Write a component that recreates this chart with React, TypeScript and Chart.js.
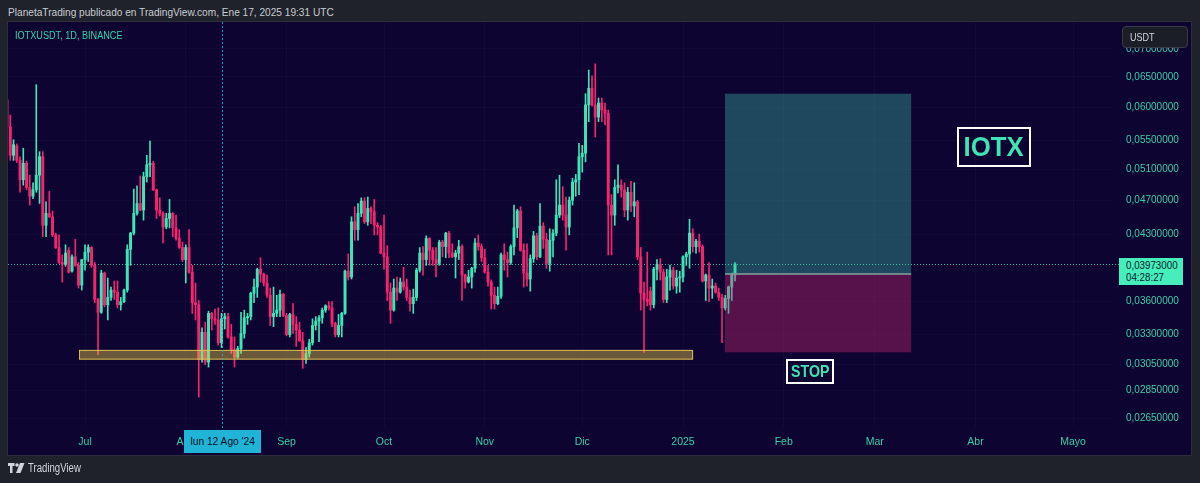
import React, { useEffect, useRef } from 'react';
import { Chart, registerables } from 'chart.js';

Chart.register(...registerables);

const FONT = "'Liberation Sans', Arial, sans-serif";

// Daily candles IOTX/USDT (Binance). Day 0 = 1 Jul 2024; first candle = 7 Jun 2024.
const FIRST_DAY = -24;

const OPEN = [
  0.0612, 0.0570, 0.0529, 0.0542, 0.0522, 0.0496, 0.0518, 0.0486, 0.0475, 0.0483,
  0.0502, 0.0527, 0.0440, 0.0454, 0.0450, 0.0429, 0.0415, 0.0399, 0.0397, 0.0412,
  0.0390, 0.0405, 0.0396, 0.0376, 0.0402, 0.0410, 0.0415, 0.0396, 0.0362, 0.0350,
  0.0388, 0.0357, 0.0364, 0.0371, 0.0369, 0.0357, 0.0360, 0.0371, 0.0413, 0.0431,
  0.0454, 0.0466, 0.0458, 0.0500, 0.0516, 0.0518, 0.0483, 0.0458, 0.0454, 0.0438,
  0.0448, 0.0454, 0.0437, 0.0425, 0.0415, 0.0402, 0.0415, 0.0389, 0.0359, 0.0357,
  0.0309, 0.0332, 0.0307, 0.0349, 0.0344, 0.0343, 0.0323, 0.0344, 0.0346, 0.0328,
  0.0317, 0.0311, 0.0318, 0.0331, 0.0345, 0.0346, 0.0368, 0.0374, 0.0392, 0.0387,
  0.0378, 0.0366, 0.0346, 0.0349, 0.0352, 0.0367, 0.0347, 0.0330, 0.0348, 0.0339,
  0.0334, 0.0325, 0.0309, 0.0314, 0.0323, 0.0338, 0.0342, 0.0345, 0.0352, 0.0356,
  0.0354, 0.0340, 0.0330, 0.0338, 0.0349, 0.0390, 0.0384, 0.0444, 0.0435, 0.0454,
  0.0469, 0.0444, 0.0460, 0.0456, 0.0440, 0.0438, 0.0409, 0.0405, 0.0369, 0.0352,
  0.0373, 0.0369, 0.0379, 0.0374, 0.0364, 0.0358, 0.0364, 0.0391, 0.0409, 0.0402,
  0.0425, 0.0412, 0.0402, 0.0398, 0.0421, 0.0416, 0.0431, 0.0409, 0.0405, 0.0409,
  0.0416, 0.0386, 0.0379, 0.0384, 0.0393, 0.0420, 0.0416, 0.0404, 0.0389, 0.0379,
  0.0366, 0.0358, 0.0365, 0.0407, 0.0402, 0.0399, 0.0416, 0.0437, 0.0457, 0.0412,
  0.0388, 0.0382, 0.0403, 0.0428, 0.0405, 0.0439, 0.0424, 0.0398, 0.0423, 0.0431,
  0.0452, 0.0464, 0.0452, 0.0438, 0.0470, 0.0493, 0.0496, 0.0527, 0.0532, 0.0604,
  0.0631, 0.0604, 0.0585, 0.0607, 0.0596, 0.0591, 0.0464, 0.0452, 0.0486, 0.0489,
  0.0483, 0.0458, 0.0480, 0.0463, 0.0468, 0.0405, 0.0368, 0.0362, 0.0370, 0.0357,
  0.0392, 0.0397, 0.0389, 0.0362, 0.0384, 0.0391, 0.0375, 0.0383, 0.0384, 0.0405,
  0.0408, 0.0431, 0.0416, 0.0422, 0.0416, 0.0380, 0.0386, 0.0373, 0.0375, 0.0369,
  0.0364, 0.0354, 0.0363, 0.0374, 0.0386,
];

const HIGH = [
  0.0620, 0.0588, 0.0551, 0.0545, 0.0527, 0.0539, 0.0521, 0.0502, 0.0492, 0.0637,
  0.0534, 0.0534, 0.0468, 0.0481, 0.0457, 0.0431, 0.0429, 0.0407, 0.0418, 0.0415,
  0.0407, 0.0424, 0.0399, 0.0402, 0.0418, 0.0418, 0.0416, 0.0399, 0.0363, 0.0391,
  0.0389, 0.0383, 0.0374, 0.0380, 0.0380, 0.0364, 0.0372, 0.0418, 0.0432, 0.0484,
  0.0488, 0.0501, 0.0506, 0.0529, 0.0549, 0.0521, 0.0484, 0.0473, 0.0456, 0.0454,
  0.0471, 0.0455, 0.0452, 0.0435, 0.0421, 0.0418, 0.0435, 0.0396, 0.0378, 0.0361,
  0.0336, 0.0341, 0.0351, 0.0350, 0.0353, 0.0354, 0.0349, 0.0349, 0.0349, 0.0339,
  0.0328, 0.0320, 0.0350, 0.0352, 0.0349, 0.0369, 0.0382, 0.0393, 0.0404, 0.0388,
  0.0386, 0.0373, 0.0374, 0.0366, 0.0371, 0.0368, 0.0349, 0.0349, 0.0358, 0.0346,
  0.0341, 0.0332, 0.0319, 0.0326, 0.0344, 0.0346, 0.0347, 0.0354, 0.0357, 0.0360,
  0.0360, 0.0341, 0.0348, 0.0350, 0.0391, 0.0408, 0.0450, 0.0462, 0.0466, 0.0473,
  0.0473, 0.0474, 0.0462, 0.0471, 0.0443, 0.0440, 0.0452, 0.0417, 0.0378, 0.0382,
  0.0384, 0.0383, 0.0394, 0.0382, 0.0371, 0.0372, 0.0393, 0.0415, 0.0416, 0.0428,
  0.0426, 0.0415, 0.0415, 0.0423, 0.0423, 0.0432, 0.0433, 0.0419, 0.0412, 0.0423,
  0.0418, 0.0387, 0.0391, 0.0394, 0.0425, 0.0429, 0.0419, 0.0413, 0.0396, 0.0381,
  0.0374, 0.0374, 0.0409, 0.0419, 0.0410, 0.0418, 0.0464, 0.0459, 0.0462, 0.0419,
  0.0419, 0.0407, 0.0433, 0.0431, 0.0466, 0.0443, 0.0431, 0.0436, 0.0435, 0.0496,
  0.0502, 0.0487, 0.0474, 0.0474, 0.0498, 0.0503, 0.0546, 0.0543, 0.0622, 0.0662,
  0.0652, 0.0673, 0.0615, 0.0615, 0.0607, 0.0596, 0.0477, 0.0496, 0.0516, 0.0496,
  0.0492, 0.0486, 0.0494, 0.0492, 0.0470, 0.0415, 0.0379, 0.0410, 0.0374, 0.0394,
  0.0402, 0.0403, 0.0392, 0.0392, 0.0396, 0.0394, 0.0391, 0.0390, 0.0406, 0.0410,
  0.0447, 0.0436, 0.0424, 0.0430, 0.0418, 0.0387, 0.0399, 0.0382, 0.0378, 0.0373,
  0.0367, 0.0366, 0.0375, 0.0388, 0.0399,
];

const LOW = [
  0.0565, 0.0522, 0.0522, 0.0519, 0.0480, 0.0489, 0.0483, 0.0464, 0.0472, 0.0480,
  0.0466, 0.0427, 0.0427, 0.0449, 0.0427, 0.0414, 0.0398, 0.0379, 0.0395, 0.0388,
  0.0389, 0.0395, 0.0373, 0.0371, 0.0391, 0.0400, 0.0394, 0.0359, 0.0313, 0.0349,
  0.0355, 0.0343, 0.0361, 0.0362, 0.0354, 0.0352, 0.0359, 0.0369, 0.0396, 0.0429,
  0.0452, 0.0457, 0.0446, 0.0493, 0.0500, 0.0482, 0.0448, 0.0451, 0.0420, 0.0436,
  0.0437, 0.0427, 0.0423, 0.0414, 0.0400, 0.0378, 0.0388, 0.0349, 0.0343, 0.0280,
  0.0307, 0.0305, 0.0303, 0.0334, 0.0339, 0.0321, 0.0319, 0.0335, 0.0327, 0.0314,
  0.0303, 0.0310, 0.0314, 0.0327, 0.0339, 0.0343, 0.0359, 0.0364, 0.0379, 0.0375,
  0.0364, 0.0338, 0.0337, 0.0346, 0.0346, 0.0346, 0.0329, 0.0328, 0.0331, 0.0320,
  0.0324, 0.0302, 0.0306, 0.0311, 0.0321, 0.0334, 0.0324, 0.0340, 0.0350, 0.0352,
  0.0337, 0.0328, 0.0328, 0.0328, 0.0348, 0.0381, 0.0382, 0.0423, 0.0423, 0.0450,
  0.0442, 0.0440, 0.0442, 0.0429, 0.0429, 0.0408, 0.0392, 0.0361, 0.0340, 0.0351,
  0.0361, 0.0368, 0.0371, 0.0361, 0.0351, 0.0349, 0.0361, 0.0389, 0.0386, 0.0396,
  0.0396, 0.0396, 0.0384, 0.0396, 0.0405, 0.0404, 0.0404, 0.0404, 0.0383, 0.0402,
  0.0361, 0.0373, 0.0378, 0.0373, 0.0389, 0.0412, 0.0400, 0.0388, 0.0375, 0.0353,
  0.0353, 0.0357, 0.0363, 0.0391, 0.0384, 0.0397, 0.0407, 0.0426, 0.0411, 0.0374,
  0.0375, 0.0370, 0.0399, 0.0402, 0.0404, 0.0414, 0.0393, 0.0390, 0.0405, 0.0428,
  0.0449, 0.0446, 0.0412, 0.0429, 0.0464, 0.0475, 0.0477, 0.0506, 0.0520, 0.0578,
  0.0602, 0.0555, 0.0578, 0.0578, 0.0573, 0.0407, 0.0407, 0.0440, 0.0479, 0.0474,
  0.0450, 0.0446, 0.0456, 0.0450, 0.0402, 0.0352, 0.0315, 0.0356, 0.0352, 0.0354,
  0.0381, 0.0381, 0.0359, 0.0359, 0.0371, 0.0372, 0.0368, 0.0369, 0.0379, 0.0396,
  0.0393, 0.0410, 0.0409, 0.0410, 0.0379, 0.0361, 0.0360, 0.0363, 0.0368, 0.0361,
  0.0323, 0.0352, 0.0349, 0.0361, 0.0380,
];

const CLOSE = [
  0.0570, 0.0529, 0.0544, 0.0522, 0.0496, 0.0518, 0.0486, 0.0475, 0.0483, 0.0502,
  0.0527, 0.0440, 0.0454, 0.0450, 0.0429, 0.0415, 0.0399, 0.0397, 0.0409, 0.0389,
  0.0405, 0.0396, 0.0376, 0.0402, 0.0410, 0.0415, 0.0396, 0.0362, 0.0350, 0.0388,
  0.0357, 0.0364, 0.0371, 0.0369, 0.0357, 0.0360, 0.0371, 0.0413, 0.0431, 0.0454,
  0.0466, 0.0458, 0.0500, 0.0516, 0.0518, 0.0483, 0.0458, 0.0454, 0.0438, 0.0448,
  0.0454, 0.0437, 0.0425, 0.0415, 0.0402, 0.0415, 0.0389, 0.0359, 0.0357, 0.0309,
  0.0332, 0.0307, 0.0349, 0.0344, 0.0343, 0.0323, 0.0344, 0.0346, 0.0328, 0.0317,
  0.0311, 0.0318, 0.0331, 0.0345, 0.0346, 0.0368, 0.0374, 0.0392, 0.0387, 0.0378,
  0.0366, 0.0346, 0.0349, 0.0352, 0.0367, 0.0347, 0.0330, 0.0348, 0.0339, 0.0334,
  0.0325, 0.0309, 0.0314, 0.0323, 0.0338, 0.0342, 0.0345, 0.0352, 0.0356, 0.0354,
  0.0340, 0.0330, 0.0338, 0.0349, 0.0390, 0.0384, 0.0444, 0.0435, 0.0454, 0.0469,
  0.0444, 0.0460, 0.0456, 0.0440, 0.0438, 0.0409, 0.0405, 0.0369, 0.0352, 0.0373,
  0.0369, 0.0379, 0.0374, 0.0364, 0.0358, 0.0364, 0.0391, 0.0409, 0.0402, 0.0425,
  0.0412, 0.0402, 0.0398, 0.0421, 0.0416, 0.0431, 0.0409, 0.0405, 0.0409, 0.0416,
  0.0386, 0.0379, 0.0384, 0.0393, 0.0420, 0.0416, 0.0404, 0.0389, 0.0379, 0.0366,
  0.0358, 0.0365, 0.0407, 0.0402, 0.0399, 0.0416, 0.0437, 0.0457, 0.0412, 0.0388,
  0.0382, 0.0403, 0.0428, 0.0405, 0.0439, 0.0424, 0.0398, 0.0423, 0.0431, 0.0452,
  0.0464, 0.0452, 0.0438, 0.0470, 0.0493, 0.0496, 0.0527, 0.0532, 0.0604, 0.0631,
  0.0604, 0.0585, 0.0607, 0.0596, 0.0591, 0.0464, 0.0452, 0.0486, 0.0489, 0.0483,
  0.0458, 0.0480, 0.0463, 0.0468, 0.0405, 0.0368, 0.0362, 0.0360, 0.0357, 0.0392,
  0.0397, 0.0389, 0.0362, 0.0384, 0.0391, 0.0375, 0.0383, 0.0384, 0.0405, 0.0408,
  0.0431, 0.0416, 0.0422, 0.0416, 0.0380, 0.0386, 0.0373, 0.0375, 0.0369, 0.0364,
  0.0354, 0.0363, 0.0374, 0.0386, 0.03973,
];

// time axis (days from 1 Jul 2024) and Spanish month labels
const MONTH_DAYS = [0, 31, 62, 92, 123, 153, 184, 215, 243, 274, 304];
const MONTH_LABELS = ['Jul', 'Ago', 'Sep', 'Oct', 'Nov', 'Dic', '2025', 'Feb', 'Mar', 'Abr', 'Mayo'];
// price axis ticks
const PRICE_TICKS = [0.0265, 0.0285, 0.0305, 0.033, 0.036, 0.043, 0.047, 0.051, 0.055, 0.06, 0.065, 0.07];
const LAST_PRICE = 0.03973;
const X_RANGE = [-23.7, 316];
const Y_RANGE = [0.02588, 0.07512];
// drawings
const SUPPORT_ZONE = [-1.85, 187.1, 0.0317, 0.0309]; // fromDay, toDay, top, bottom
const POSITION = [196.9, 254.2, 0.0622, 0.0387, 0.0315]; // fromDay, toDay, target, entry, stop
const CROSSHAIR_DAY = 42;

const UP = '#3de6b6';
const DOWN = '#f2256f';
const TICK_COLOR = '#3acfa7';
const GRID = 'rgba(255,255,255,0.025)';

const fmtPrice = (v: number) => v.toFixed(8).replace('.', ',');

function Narrow({ s, origin = 'left center', children }: { s: number; origin?: string; children: React.ReactNode }) {
  return (
    <span style={{ display: 'inline-block', transform: `scaleX(${s})`, transformOrigin: origin, whiteSpace: 'nowrap' }}>
      {children}
    </span>
  );
}

export default function App() {
  const ref = useRef<HTMLCanvasElement>(null);

  useEffect(() => {
    const canvas = ref.current;
    if (!canvas) return;
    const days = CLOSE.map((_, i) => FIRST_DAY + i);
    const colors = CLOSE.map((c, i) => (c >= OPEN[i] ? UP : DOWN));
    const bodies = days.map((d, i) => ({ x: d, y: [OPEN[i], CLOSE[i]] }));
    const wicks = days.map((d, i) => ({ x: d, y: [LOW[i], HIGH[i]] }));

    const overlay = {
      id: 'overlay',
      beforeDatasetsDraw(chart: any) {
        const { ctx, chartArea, scales } = chart;
        const y = Math.round(scales.y.getPixelForValue(LAST_PRICE)) + 0.5;
        ctx.save();
        ctx.strokeStyle = 'rgba(70,220,180,0.85)';
        ctx.lineWidth = 1;
        ctx.setLineDash([1, 2]);
        ctx.beginPath();
        ctx.moveTo(chartArea.left, y);
        ctx.lineTo(1119, y);
        ctx.stroke();
        ctx.restore();
      },
      afterDatasetsDraw(chart: any) {
        const { ctx, chartArea, scales } = chart;
        const xs = scales.x, ys = scales.y;
        ctx.save();
        ctx.beginPath();
        ctx.rect(chartArea.left, chartArea.top, chartArea.right - chartArea.left, chartArea.bottom - chartArea.top);
        ctx.clip();
        // support zone
        const zx1 = xs.getPixelForValue(SUPPORT_ZONE[0]);
        const zx2 = xs.getPixelForValue(SUPPORT_ZONE[1]);
        const zy1 = ys.getPixelForValue(SUPPORT_ZONE[2]);
        const zy2 = ys.getPixelForValue(SUPPORT_ZONE[3]);
        ctx.fillStyle = 'rgba(230,200,72,0.43)';
        ctx.fillRect(zx1, zy1, zx2 - zx1, zy2 - zy1);
        ctx.strokeStyle = 'rgba(235,205,85,0.85)';
        ctx.lineWidth = 1;
        ctx.strokeRect(zx1 + 0.5, zy1 + 0.5, zx2 - zx1 - 1, zy2 - zy1 - 1);
        // long position tool
        const px1 = xs.getPixelForValue(POSITION[0]);
        const px2 = xs.getPixelForValue(POSITION[1]);
        const pt = ys.getPixelForValue(POSITION[2]);
        const pe = ys.getPixelForValue(POSITION[3]);
        const ps = ys.getPixelForValue(POSITION[4]);
        ctx.fillStyle = 'rgba(62,186,172,0.37)';
        ctx.fillRect(px1, pt, px2 - px1, pe - pt);
        ctx.fillStyle = 'rgba(215,40,120,0.37)';
        ctx.fillRect(px1, pe, px2 - px1, ps - pe);
        ctx.strokeStyle = 'rgba(125,150,150,0.85)';
        ctx.lineWidth = 2;
        ctx.beginPath();
        ctx.moveTo(px1, pe);
        ctx.lineTo(px2, pe);
        ctx.stroke();
        ctx.restore();
      },
      afterDraw(chart: any) {
        const { ctx, chartArea, scales } = chart;
        const x = Math.round(scales.x.getPixelForValue(CROSSHAIR_DAY)) + 0.5;
        ctx.save();
        ctx.strokeStyle = 'rgba(40,175,205,0.9)';
        ctx.lineWidth = 1;
        ctx.setLineDash([2, 2]);
        ctx.beginPath();
        ctx.moveTo(x, chartArea.top);
        ctx.lineTo(x, 430);
        ctx.stroke();
        ctx.restore();
      },
    };

    const chart = new Chart(canvas, {
      type: 'bar',
      data: {
        datasets: [
          {
            label: 'body',
            data: bodies as any,
            backgroundColor: colors,
            barThickness: 2.3,
            minBarLength: 1,
            grouped: false,
            order: 0,
          } as any,
          {
            label: 'wick',
            data: wicks as any,
            backgroundColor: colors,
            barThickness: 1,
            grouped: false,
            order: 1,
          } as any,
        ],
      },
      options: {
        responsive: false,
        animation: false,
        devicePixelRatio: 1,
        layout: { padding: { left: 8, top: 22, right: 0, bottom: 28 } },
        plugins: { legend: { display: false }, tooltip: { enabled: false } },
        scales: {
          x: {
            type: 'linear',
            min: X_RANGE[0],
            max: X_RANGE[1],
            offset: false,
            bounds: 'data',
            afterBuildTicks: (s: any) => {
              s.ticks = MONTH_DAYS.map((v) => ({ value: v }));
            },
            afterFit: (s: any) => {
              s.height = 28;
            },
            ticks: {
              autoSkip: false,
              maxRotation: 0,
              color: TICK_COLOR,
              font: { family: FONT, size: 10.5 },
              padding: 9,
              callback: (v: any) => {
                const k = MONTH_DAYS.indexOf(Number(v));
                return k >= 0 ? MONTH_LABELS[k] : '';
              },
            },
            grid: { color: GRID, drawTicks: false, offset: false },
            border: { display: false },
          } as any,
          y: {
            type: 'logarithmic',
            position: 'right',
            min: Y_RANGE[0],
            max: Y_RANGE[1],
            bounds: 'data',
            afterBuildTicks: (s: any) => {
              s.ticks = PRICE_TICKS.map((v) => ({ value: v }));
            },
            afterFit: (s: any) => {
              s.width = 88;
            },
            ticks: {
              color: TICK_COLOR,
              font: { family: FONT, size: 10 },
              padding: 14,
              callback: (v: any) => fmtPrice(Number(v)),
            },
            grid: { color: GRID, drawTicks: false },
            border: { display: false },
          } as any,
        },
      },
      plugins: [overlay],
    } as any);
    return () => chart.destroy();
  }, []);

  const abs = (s: React.CSSProperties): React.CSSProperties => ({ position: 'absolute', boxSizing: 'border-box', ...s });

  return (
    <div style={{ position: 'fixed', left: 0, top: 0, width: 1200, height: 483, background: '#1f222a', overflow: 'hidden', fontFamily: FONT }}>
      <div style={abs({ left: 8, top: 4, fontSize: 11.5, lineHeight: '16px', color: '#c9ccd4' })}>
        <Narrow s={0.88}>PlanetaTrading publicado en TradingView.com, Ene 17, 2025 19:31 UTC</Narrow>
      </div>
      <div style={abs({ left: 7, top: 21, width: 1185, height: 435, background: '#0e0432', border: '1px solid #2c2f3a' })} />
      <canvas ref={ref} width={1200} height={483} style={{ position: 'absolute', left: 0, top: 0 }} />
      <div style={abs({ left: 15, top: 28, fontSize: 11, lineHeight: '14px', color: '#30d6ab' })}>
        <Narrow s={0.83}>IOTXUSDT, 1D, BINANCE</Narrow>
      </div>
      <div style={abs({ left: 1122, top: 26, width: 66, height: 22, background: '#1b1d27', border: '1px solid #393c48', borderRadius: 4, color: '#d4d6dd', fontSize: 11, lineHeight: '20px', paddingLeft: 7 })}>
        <Narrow s={0.82}>USDT</Narrow>
      </div>
      <div style={abs({ left: 1119, top: 258, width: 64, height: 27, background: '#45eeba', color: '#0c2230', fontSize: 10.5, lineHeight: '12px', paddingLeft: 7, paddingTop: 1 })}>
        <div><Narrow s={0.93}>0,03973000</Narrow></div>
        <div><Narrow s={0.93}>04:28:27</Narrow></div>
      </div>
      <div style={abs({ left: 184, top: 430, width: 77, height: 23, background: '#22b4d6', color: '#0a1228', fontSize: 11, lineHeight: '23px', textAlign: 'center' })}>
        <Narrow s={0.93} origin="center center">lun 12 Ago '24</Narrow>
      </div>
      <div style={abs({ left: 957, top: 127, width: 74, height: 40, border: '2px solid #ffffff', color: '#3fe3b4', fontSize: 28, fontWeight: 700, lineHeight: '36px', textAlign: 'center' })}>
        <Narrow s={0.92} origin="center center">IOTX</Narrow>
      </div>
      <div style={abs({ left: 786, top: 359, width: 48, height: 25, border: '2px solid #ffffff', color: '#3fe3b4', fontSize: 16.5, fontWeight: 700, lineHeight: '21px', textAlign: 'center' })}>
        <Narrow s={0.86} origin="center center">STOP</Narrow>
      </div>
      <div style={abs({ left: 8, top: 461, height: 14, display: 'flex', alignItems: 'center', gap: 3, color: '#d1d4dc', fontSize: 12 })}>
        <svg width="17" height="10" viewBox="0 0 34 20">
          <path d="M0 0h13v6H9v14H4V6H0z" fill="#d1d4dc" />
          <circle cx="18" cy="4" r="3.6" fill="#d1d4dc" />
          <path d="M24 0h9l-8 20h-9z" fill="#d1d4dc" />
        </svg>
        <Narrow s={0.8}>TradingView</Narrow>
      </div>
    </div>
  );
}
